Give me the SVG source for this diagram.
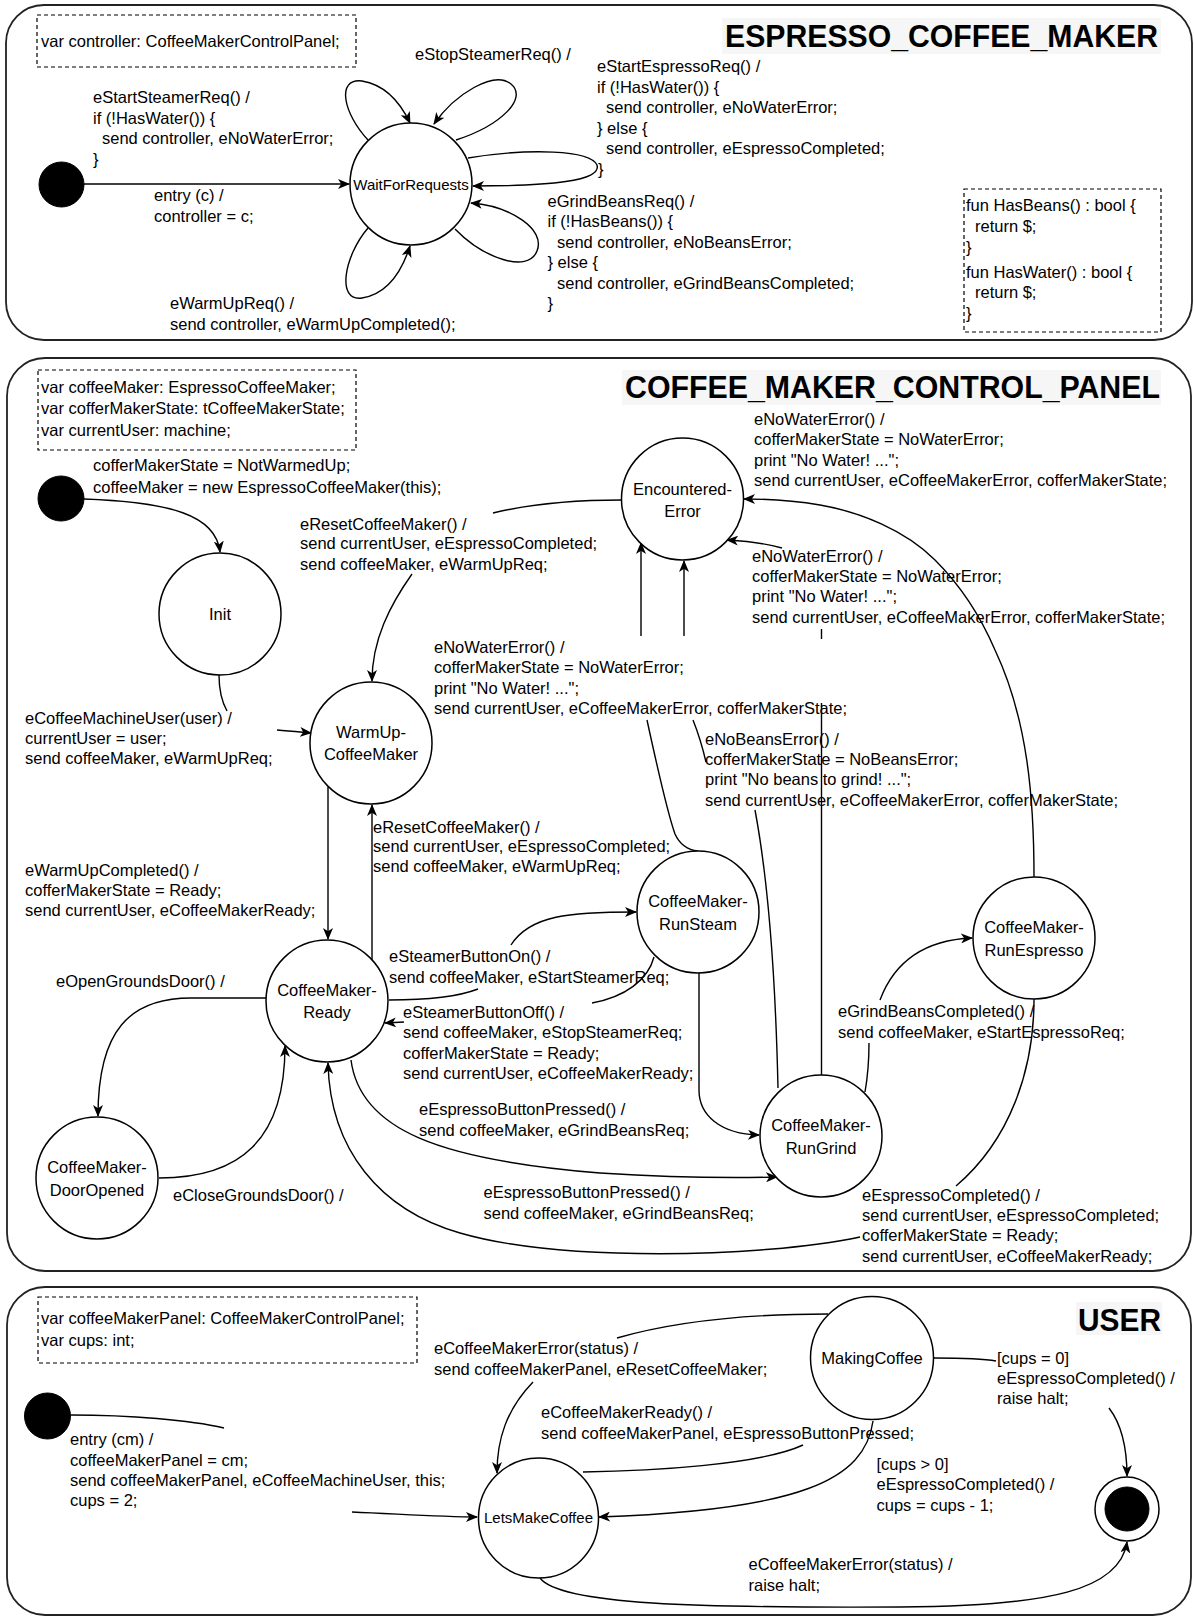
<svg xmlns="http://www.w3.org/2000/svg" width="1194" height="1617" viewBox="0 0 1194 1617">
  <style>
    text { font-family: "Liberation Sans", Arial, Helvetica, sans-serif; font-size: 16.5px; fill: #000; }
    .small { font-size: 15px; }
    .mid { text-anchor: middle; }
    .title { font-weight: bold; font-size: 32px; text-anchor: end; }
    .titlebg { fill: #f6f6f6; stroke: none; }
    .frame { fill: #fff; stroke: #222; stroke-width: 1.8; }
    .vars { fill: none; stroke: #000; stroke-width: 1.2; stroke-dasharray: 4 3; }
    .state { fill: #fff; stroke: #000; stroke-width: 1.5; }
    .init { fill: #000; stroke: #000; stroke-width: 1; }
    .edge { fill: none; stroke: #000; stroke-width: 1.4; }
    .arrow { marker-end: url(#arr); }
  </style>
  <defs>
    <marker id="arr" viewBox="0 0 12 10" refX="11" refY="5" markerWidth="12" markerHeight="10" markerUnits="userSpaceOnUse" orient="auto">
      <path d="M0,0 L12,5 L0,10 L3.2,5 Z" fill="#000"/>
    </marker>
  </defs>

  <rect width="1194" height="1617" fill="#fff"/>

  <!-- ===== machine frames ===== -->
  <g id="frames">
    <rect class="frame" x="6" y="5" width="1186" height="335" rx="38" ry="38"/>
    <rect class="frame" x="7" y="358" width="1184" height="913" rx="38" ry="38"/>
    <rect class="frame" x="7" y="1287" width="1184" height="328" rx="38" ry="38"/>
  </g>

  <g id="titles">
    <rect class="titlebg" x="722" y="18" width="439" height="36"/>
    <text class="title" x="1158" y="46.5" textLength="433" lengthAdjust="spacingAndGlyphs">ESPRESSO_COFFEE_MAKER</text>
    <rect class="titlebg" x="622" y="370" width="539" height="35"/>
    <text class="title" x="1160" y="397.5" textLength="535" lengthAdjust="spacingAndGlyphs">COFFEE_MAKER_CONTROL_PANEL</text>
    <rect class="titlebg" x="1076" y="1302" width="86" height="33"/>
    <text class="title" x="1161" y="1330.5" textLength="83" lengthAdjust="spacingAndGlyphs">USER</text>
  </g>

  <!-- ===== variable / function declarations ===== -->
  <g id="decl-espresso">
    <rect class="vars" x="37" y="15" width="319" height="52"/>
    <text x="41" y="47">var controller: CoffeeMakerControlPanel;</text>
  </g>
  <g id="decl-espresso-funs">
    <rect class="vars" x="964" y="189" width="197" height="143"/>
    <text x="966" y="210.5">fun HasBeans() : bool {</text>
    <text x="975" y="231.5">return $;</text>
    <text x="966" y="252.5">}</text>
    <text x="966" y="277.5">fun HasWater() : bool {</text>
    <text x="975" y="298">return $;</text>
    <text x="966" y="319">}</text>
  </g>
  <g id="decl-panel">
    <rect class="vars" x="38" y="370" width="318" height="80"/>
    <text x="41" y="392.5">var coffeeMaker: EspressoCoffeeMaker;</text>
    <text x="41" y="414">var cofferMakerState: tCoffeeMakerState;</text>
    <text x="41" y="435.5">var currentUser: machine;</text>
  </g>
  <g id="decl-user">
    <rect class="vars" x="38" y="1297" width="379" height="66"/>
    <text x="41" y="1324">var coffeeMakerPanel: CoffeeMakerControlPanel;</text>
    <text x="41" y="1346">var cups: int;</text>
  </g>

  <!-- ===== transition labels ===== -->
  <g id="labels">
    <!-- espresso coffee maker -->
    <text x="415" y="59.5">eStopSteamerReq() /</text>
    <text x="93" y="103">eStartSteamerReq() /</text>
    <text x="93" y="123.5">if (!HasWater()) {</text>
    <text x="102" y="144">send controller, eNoWaterError;</text>
    <text x="93" y="164.5">}</text>
    <text x="154" y="201">entry (c) /</text>
    <text x="154" y="221.5">controller = c;</text>
    <text x="597" y="72">eStartEspressoReq() /</text>
    <text x="597" y="92.5">if (!HasWater()) {</text>
    <text x="606" y="113">send controller, eNoWaterError;</text>
    <text x="597" y="133.5">} else {</text>
    <text x="606" y="154">send controller, eEspressoCompleted;</text>
    <text x="598" y="174.5">}</text>
    <text x="547.5" y="206.5">eGrindBeansReq() /</text>
    <text x="547.5" y="227">if (!HasBeans()) {</text>
    <text x="557" y="247.5">send controller, eNoBeansError;</text>
    <text x="547.5" y="268">} else {</text>
    <text x="557" y="288.5">send controller, eGrindBeansCompleted;</text>
    <text x="547.5" y="309">}</text>
    <text x="170" y="309">eWarmUpReq() /</text>
    <text x="170" y="329.5">send controller, eWarmUpCompleted();</text>

    <!-- control panel -->
    <text x="93" y="470.5">cofferMakerState = NotWarmedUp;</text>
    <text x="93" y="493">coffeeMaker = new EspressoCoffeeMaker(this);</text>
    <text x="300" y="529.5">eResetCoffeeMaker() /</text>
    <text x="300" y="549">send currentUser, eEspressoCompleted;</text>
    <text x="300" y="569.5">send coffeeMaker, eWarmUpReq;</text>
    <text x="754" y="425">eNoWaterError() /</text>
    <text x="754" y="445">cofferMakerState = NoWaterError;</text>
    <text x="754" y="465.5">print "No Water! ...";</text>
    <text x="754" y="486">send currentUser, eCoffeeMakerError, cofferMakerState;</text>
    <text x="752" y="562">eNoWaterError() /</text>
    <text x="752" y="581.5">cofferMakerState = NoWaterError;</text>
    <text x="752" y="602">print "No Water! ...";</text>
    <text x="752" y="622.5">send currentUser, eCoffeeMakerError, cofferMakerState;</text>
    <text x="434" y="653">eNoWaterError() /</text>
    <text x="434" y="673">cofferMakerState = NoWaterError;</text>
    <text x="434" y="693.5">print "No Water! ...";</text>
    <text x="434" y="714">send currentUser, eCoffeeMakerError, cofferMakerState;</text>
    <text x="705" y="745">eNoBeansError() /</text>
    <text x="705" y="765">cofferMakerState = NoBeansError;</text>
    <text x="705" y="785">print "No beans to grind! ...";</text>
    <text x="705" y="805.5">send currentUser, eCoffeeMakerError, cofferMakerState;</text>
    <text x="25" y="724">eCoffeeMachineUser(user) /</text>
    <text x="25" y="744">currentUser = user;</text>
    <text x="25" y="764">send coffeeMaker, eWarmUpReq;</text>
    <text x="373" y="832.5">eResetCoffeeMaker() /</text>
    <text x="373" y="852">send currentUser, eEspressoCompleted;</text>
    <text x="373" y="872">send coffeeMaker, eWarmUpReq;</text>
    <text x="25" y="876">eWarmUpCompleted() /</text>
    <text x="25" y="895.5">cofferMakerState = Ready;</text>
    <text x="25" y="916">send currentUser, eCoffeeMakerReady;</text>
    <text x="389" y="961.5">eSteamerButtonOn() /</text>
    <text x="389" y="983">send coffeeMaker, eStartSteamerReq;</text>
    <text x="56" y="987">eOpenGroundsDoor() /</text>
    <text x="403" y="1018">eSteamerButtonOff() /</text>
    <text x="403" y="1038">send coffeeMaker, eStopSteamerReq;</text>
    <text x="403" y="1058.5">cofferMakerState = Ready;</text>
    <text x="403" y="1079">send currentUser, eCoffeeMakerReady;</text>
    <text x="838" y="1017">eGrindBeansCompleted() /</text>
    <text x="838" y="1037.5">send coffeeMaker, eStartEspressoReq;</text>
    <text x="419" y="1115">eEspressoButtonPressed() /</text>
    <text x="419" y="1135.5">send coffeeMaker, eGrindBeansReq;</text>
    <text x="483.5" y="1197.5">eEspressoButtonPressed() /</text>
    <text x="483.5" y="1219">send coffeeMaker, eGrindBeansReq;</text>
    <text x="173" y="1200.5">eCloseGroundsDoor() /</text>
    <text x="862" y="1200.5">eEspressoCompleted() /</text>
    <text x="862" y="1220.5">send currentUser, eEspressoCompleted;</text>
    <text x="862" y="1241">cofferMakerState = Ready;</text>
    <text x="862" y="1261.5">send currentUser, eCoffeeMakerReady;</text>

    <!-- user -->
    <text x="434" y="1354">eCoffeeMakerError(status) /</text>
    <text x="434" y="1375">send coffeeMakerPanel, eResetCoffeeMaker;</text>
    <text x="541" y="1417.5">eCoffeeMakerReady() /</text>
    <text x="541" y="1439">send coffeeMakerPanel, eEspressoButtonPressed;</text>
    <text x="997" y="1363.5">[cups = 0]</text>
    <text x="997" y="1383.5">eEspressoCompleted() /</text>
    <text x="997" y="1404">raise halt;</text>
    <text x="70" y="1445">entry (cm) /</text>
    <text x="70" y="1465.5">coffeeMakerPanel = cm;</text>
    <text x="70" y="1486">send coffeeMakerPanel, eCoffeeMachineUser, this;</text>
    <text x="70" y="1506">cups = 2;</text>
    <text x="876.5" y="1469.5">[cups &gt; 0]</text>
    <text x="876.5" y="1490">eEspressoCompleted() /</text>
    <text x="876.5" y="1510.5">cups = cups - 1;</text>
    <text x="748.5" y="1570">eCoffeeMakerError(status) /</text>
    <text x="748.5" y="1591">raise halt;</text>
  </g>

  <!-- ===== connectors ===== -->
  <g id="connectors">
    <!-- espresso coffee maker -->
    <path class="edge arrow" d="M 84 184 L 349 184"/>
    <path class="edge arrow" d="M 368 140 C 343 113, 336 78, 362 81 C 386 85, 401 104, 410 123"/>
    <path class="edge arrow" d="M 456 140 C 502 125, 528 98, 511 84 C 494 70, 455 94, 434 124"/>
    <path class="edge arrow" d="M 468 158 C 530 148, 590 150, 597 165 C 602 181, 550 186, 473 186"/>
    <path class="edge arrow" d="M 455 229 C 483 258, 528 274, 537 251 C 546 229, 510 206, 471 203"/>
    <path class="edge arrow" d="M 368 228 C 344 256, 336 302, 362 298 C 387 294, 401 274, 410 246"/>

    <!-- control panel -->
    <path class="edge arrow" d="M 84 499 C 170 502, 216 515, 220 552"/>
    <path class="edge" d="M 219 675 C 219 690, 222 702, 227 711"/>
    <path class="edge arrow" d="M 277 730 C 290 731, 300 732, 311 733"/>
    <path class="edge" d="M 622 500 C 580 500, 530 504, 493 513"/>
    <path class="edge arrow" d="M 412 574 C 390 605, 372 640, 372 681"/>
    <path class="edge arrow" d="M 328 787 L 328 939"/>
    <path class="edge arrow" d="M 372 960 L 372 805"/>
    <path class="edge" d="M 389 1000 C 430 1000, 460 996, 478 989"/>
    <path class="edge arrow" d="M 511 945 C 530 915, 570 912, 636 912"/>
    <path class="edge" d="M 654 957 C 648 980, 625 997, 592 1003"/>
    <path class="edge arrow" d="M 404 1022 L 385 1023"/>
    <path class="edge arrow" d="M 699 973 L 699 1090 C 699 1115, 720 1134, 759 1135"/>
    <path class="edge arrow" d="M 351 1060 C 360 1130, 440 1160, 600 1173 C 680 1178, 740 1178, 777 1177"/>
    <path class="edge" d="M 1034 999 C 1034 1070, 1010 1140, 956 1186"/>
    <path class="edge arrow" d="M 860 1237 C 760 1258, 560 1262, 460 1233 C 380 1210, 330 1150, 328 1063"/>
    <path class="edge arrow" d="M 267 998 L 191 998 C 130 998, 98 1030, 98 1116"/>
    <path class="edge arrow" d="M 159 1178 C 240 1178, 285 1140, 285 1046"/>
    <path class="edge" d="M 865 1092 C 868 1075, 869 1060, 869 1043"/>
    <path class="edge arrow" d="M 880 1000 C 895 960, 925 940, 972 938"/>
    <path class="edge arrow" d="M 698 851 C 688 850, 680 845, 675 834 C 670 820, 660 780, 647 720 M 641 636 L 641 543"/>
    <path class="edge arrow" d="M 778 1088 C 776 1000, 770 890, 755 810 M 706 762 C 702 745, 697 730, 693 720 M 684 636 L 684 561"/>
    <path class="edge arrow" d="M 821.5 1075 L 821.5 703 M 821.5 629 L 821.5 639 M 782 548 C 765 543, 745 541, 727 540"/>
    <path class="edge arrow" d="M 1034 877 C 1034 800, 1028 720, 995 650 C 980 615, 960 585, 935 560 C 905 530, 860 512, 820 505 C 790 500, 765 499, 744 499"/>

    <!-- user -->
    <path class="edge" d="M 71 1415 C 130 1415, 190 1420, 224 1428"/>
    <path class="edge arrow" d="M 352 1512 C 400 1514, 440 1517, 477 1517"/>
    <path class="edge" d="M 828 1314 C 760 1314, 680 1320, 617 1338"/>
    <path class="edge arrow" d="M 533 1382 C 506 1410, 497 1440, 497 1473"/>
    <path class="edge" d="M 583 1472 C 650 1471, 760 1465, 803 1445"/>
    <path class="edge arrow" d="M 873 1421 C 865 1480, 800 1510, 599 1517"/>
    <path class="edge" d="M 934 1358 C 960 1358, 980 1358, 996 1361"/>
    <path class="edge arrow" d="M 1109 1408 C 1122 1425, 1127 1450, 1127 1476"/>
    <path class="edge arrow" d="M 540 1578 C 560 1605, 700 1608, 900 1607 C 1050 1606, 1120 1590, 1127 1542"/>
  </g>

  <!-- ===== states: espresso coffee maker ===== -->
  <g id="espresso-start">
    <ellipse class="init" cx="61.5" cy="184.5" rx="22.5" ry="22.5"/>
  </g>
  <g id="WaitForRequests">
    <circle class="state" cx="411" cy="184" r="61"/>
    <text class="small mid" x="411" y="189.5">WaitForRequests</text>
  </g>

  <!-- ===== states: control panel ===== -->
  <g id="panel-start">
    <ellipse class="init" cx="61" cy="498.5" rx="23" ry="22.5"/>
  </g>
  <g id="Init">
    <circle class="state" cx="220" cy="614" r="61"/>
    <text class="mid" x="220" y="620">Init</text>
  </g>
  <g id="WarmUpCoffeeMaker">
    <circle class="state" cx="371" cy="743" r="61"/>
    <text class="mid" x="371" y="737.5">WarmUp-</text>
    <text class="mid" x="371" y="760">CoffeeMaker</text>
  </g>
  <g id="EncounteredError">
    <circle class="state" cx="682.5" cy="499" r="61"/>
    <text class="mid" x="682.5" y="494.5">Encountered-</text>
    <text class="mid" x="682.5" y="517">Error</text>
  </g>
  <g id="CoffeeMakerReady">
    <circle class="state" cx="327" cy="1001" r="61"/>
    <text class="mid" x="327" y="995.5">CoffeeMaker-</text>
    <text class="mid" x="327" y="1018">Ready</text>
  </g>
  <g id="CoffeeMakerRunSteam">
    <circle class="state" cx="698" cy="912" r="61"/>
    <text class="mid" x="698" y="907">CoffeeMaker-</text>
    <text class="mid" x="698" y="929.5">RunSteam</text>
  </g>
  <g id="CoffeeMakerRunEspresso">
    <circle class="state" cx="1034" cy="938" r="61"/>
    <text class="mid" x="1034" y="933">CoffeeMaker-</text>
    <text class="mid" x="1034" y="955.5">RunEspresso</text>
  </g>
  <g id="CoffeeMakerRunGrind">
    <circle class="state" cx="821" cy="1136" r="61"/>
    <text class="mid" x="821" y="1131">CoffeeMaker-</text>
    <text class="mid" x="821" y="1153.5">RunGrind</text>
  </g>
  <g id="CoffeeMakerDoorOpened">
    <circle class="state" cx="97" cy="1178" r="61"/>
    <text class="mid" x="97" y="1173">CoffeeMaker-</text>
    <text class="mid" x="97" y="1195.5">DoorOpened</text>
  </g>

  <!-- ===== states: user ===== -->
  <g id="user-start">
    <ellipse class="init" cx="47.5" cy="1416" rx="23" ry="23"/>
  </g>
  <g id="LetsMakeCoffee">
    <circle class="state" cx="538.5" cy="1518" r="60"/>
    <text class="small mid" x="538.5" y="1523">LetsMakeCoffee</text>
  </g>
  <g id="MakingCoffee">
    <circle class="state" cx="872" cy="1358" r="61.5"/>
    <text class="mid" x="872" y="1364">MakingCoffee</text>
  </g>
  <g id="user-final">
    <circle class="state" cx="1127" cy="1509" r="32"/>
    <circle class="init" cx="1127" cy="1509" r="22"/>
  </g>
</svg>
